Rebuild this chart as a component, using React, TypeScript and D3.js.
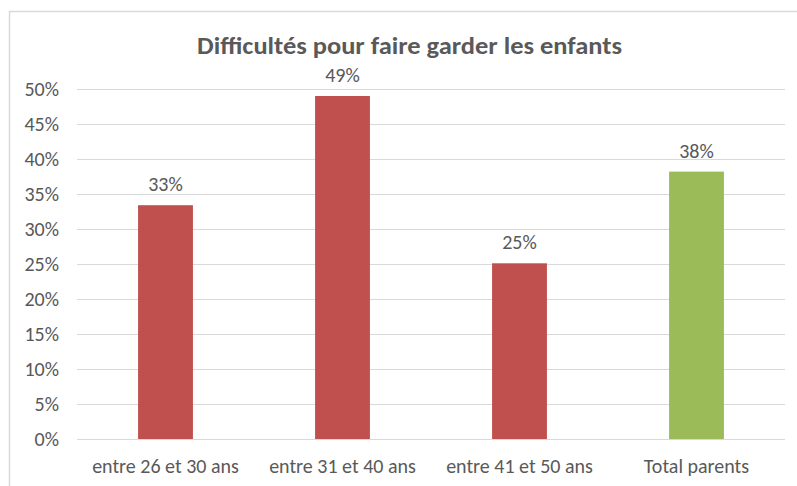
import React from "react";
import * as d3 from "d3";

const categories = ["entre 26 et 30 ans", "entre 31 et 40 ans", "entre 41 et 50 ans", "Total parents"];
const values = [0.334, 0.49, 0.251, 0.382];
const labels = ["33%", "49%", "25%", "38%"];
const barColors = ["#C0504D", "#C0504D", "#C0504D", "#9BBB59"];
const yTicks = [0, 0.05, 0.1, 0.15, 0.2, 0.25, 0.3, 0.35, 0.4, 0.45, 0.5];
const title = "Difficultés pour faire garder les enfants";

const W = 797;
const H = 486;
const plot = { left: 77, right: 785, top: 89, bottom: 439 };
const font = "Carlito, Calibri, 'Liberation Sans', Arial, sans-serif";
const textColor = "#595959";

export default function App() {
  const x = d3.scaleBand<string>().domain(categories).range([plot.left, plot.right]).paddingInner(0.69).paddingOuter(0.345);
  const y = d3.scaleLinear().domain([0, 0.5]).range([plot.bottom, plot.top]);
  const fmt = d3.format(".0%");
  return (
    <div style={{ position: "fixed", left: 0, top: 0 }}>
      <svg width={W} height={H} style={{ display: "block", background: "#fff" }}>
        <rect x={9.5} y={11.5} width={W} height={H} fill="#fff" stroke="#D9D9D9" strokeWidth={1.5} />
        <text x={409.5} y={54} textAnchor="middle" fontFamily={font} fontSize={24} fontWeight="bold" fill={textColor} textLength={425} lengthAdjust="spacingAndGlyphs">
          {title}
        </text>
        {yTicks.map((t) => (
          <g key={t}>
            <line x1={plot.left} x2={plot.right} y1={Math.round(y(t)) + 0.5} y2={Math.round(y(t)) + 0.5} stroke="#D9D9D9" strokeWidth={1} />
            <text x={59} y={y(t)} dy="0.35em" textAnchor="end" fontFamily={font} fontSize={20} fill={textColor}>
              {fmt(t)}
            </text>
          </g>
        ))}
        {categories.map((c, i) => (
          <g key={c}>
            <rect x={x(c)} y={y(values[i])} width={x.bandwidth()} height={y(0) - y(values[i])} fill={barColors[i]} />
            <text x={(x(c) ?? 0) + x.bandwidth() / 2} y={y(values[i]) - 14} textAnchor="middle" fontFamily={font} fontSize={20} fill={textColor}>
              {labels[i]}
            </text>
            <text x={(x(c) ?? 0) + x.bandwidth() / 2} y={473} textAnchor="middle" fontFamily={font} fontSize={20} fill={textColor}>
              {c}
            </text>
          </g>
        ))}
      </svg>
    </div>
  );
}
